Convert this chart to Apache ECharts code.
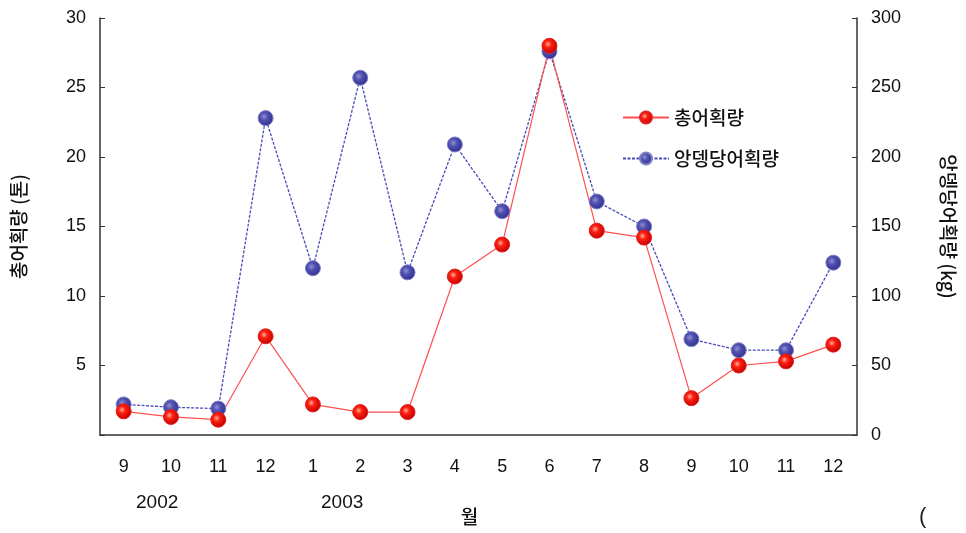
<!DOCTYPE html>
<html><head><meta charset="utf-8">
<script src="https://cdn.jsdelivr.net/npm/echarts@6/dist/echarts.min.js"></script>
<style>html,body{margin:0;padding:0;background:#fff}#c{width:966px;height:533px}</style>
</head><body><div id="c"></div>
<script>
const months = ['9','10','11','12','1','2','3','4','5','6','7','8','9','10','11','12'];
const totalCatch = [1.7,1.3,1.1,7.1,2.2,1.65,1.65,11.4,13.7,28.0,14.7,14.2,2.65,5.0,5.3,6.5];
const cpue = [22,20,19,228,120,257,117,209,161,276,168,150,69,61,61,124];
const nameTotal = '총어획량';
const nameCpue = '앙뎅당어획량';
const font = '"Liberation Sans", "Noto Sans CJK KR", sans-serif';
const kfont = '"Noto Sans CJK KR", sans-serif';
const chart = echarts.init(document.getElementById('c'));
const redMark = {type:'radial',x:0.4,y:0.4,r:0.6,colorStops:[{offset:0,color:'#ffb0a0'},{offset:0.35,color:'#ff2010'},{offset:1,color:'#c00000'}]};
const blueMark = {type:'radial',x:0.4,y:0.4,r:0.6,colorStops:[{offset:0,color:'#9090d0'},{offset:0.4,color:'#5050b0'},{offset:1,color:'#303090'}]};
chart.setOption({
  animation:false,
  backgroundColor:'#fff',
  grid:{left:100,right:108,top:18,bottom:98},
  legend:{
    orient:'vertical', left:617, top:103, itemGap:22, itemWidth:46, itemHeight:15,
    textStyle:{fontFamily:kfont,fontSize:19,color:'#111',fontWeight:500},
    data:[nameTotal,nameCpue]
  },
  xAxis:{
    type:'category', data:months, boundaryGap:true,
    name:'월', nameLocation:'middle', nameGap:72,
    nameTextStyle:{fontFamily:kfont,fontSize:19,color:'#111',fontWeight:500,padding:[0,18,0,0]},
    axisLine:{lineStyle:{color:'#333',width:1.5}},
    axisTick:{inside:true,length:5,lineStyle:{color:'#333'}},
    axisLabel:{fontFamily:font,fontSize:18,color:'#111',margin:23}
  },
  yAxis:[{
    type:'value', min:0, max:30, interval:5,
    name:nameTotal+' (톤)', nameLocation:'middle', nameGap:72,
    nameTextStyle:{fontFamily:kfont,fontSize:19,color:'#111',fontWeight:500},
    axisLine:{show:true,lineStyle:{color:'#333',width:1.5}},
    axisTick:{show:true,inside:true,length:5,lineStyle:{color:'#333'}},
    splitLine:{show:false},
    axisLabel:{fontFamily:font,fontSize:18,color:'#111',margin:14,
      formatter:v=>v===0?'':String(v)}
  },{
    type:'value', min:0, max:300, interval:50,
    name:nameCpue+' (kg)', nameLocation:'middle', nameGap:82, nameRotate:-90,
    nameTextStyle:{fontFamily:kfont,fontSize:19,color:'#111',fontWeight:500},
    axisLine:{show:true,lineStyle:{color:'#333',width:1.5}},
    axisTick:{show:true,inside:true,length:5,lineStyle:{color:'#333'}},
    splitLine:{show:false},
    axisLabel:{fontFamily:font,fontSize:18,color:'#111',margin:14}
  }],
  series:[{
    name:nameCpue, type:'line', yAxisIndex:1, data:cpue,
    symbol:'circle', symbolSize:15,
    lineStyle:{color:'#4a4ab8',width:1.3,type:[3,1.5]},
    itemStyle:{color:blueMark,borderColor:'#8080c8',borderWidth:1}
  },{
    name:nameTotal, type:'line', yAxisIndex:0, data:totalCatch,
    symbol:'circle', symbolSize:15,
    lineStyle:{color:'#ff5050',width:1.2},
    itemStyle:{color:redMark,borderColor:'#e02020',borderWidth:1}
  }],
  graphic:[
    {type:'text',left:136,top:493,style:{text:'2002',font:'19px '+font,fill:'#111'}},
    {type:'text',left:321,top:493,style:{text:'2003',font:'19px '+font,fill:'#111'}},
    {type:'text',left:919,top:506,style:{text:'(',font:'22px '+font,fill:'#222'}}
  ]
});
</script></body></html>
